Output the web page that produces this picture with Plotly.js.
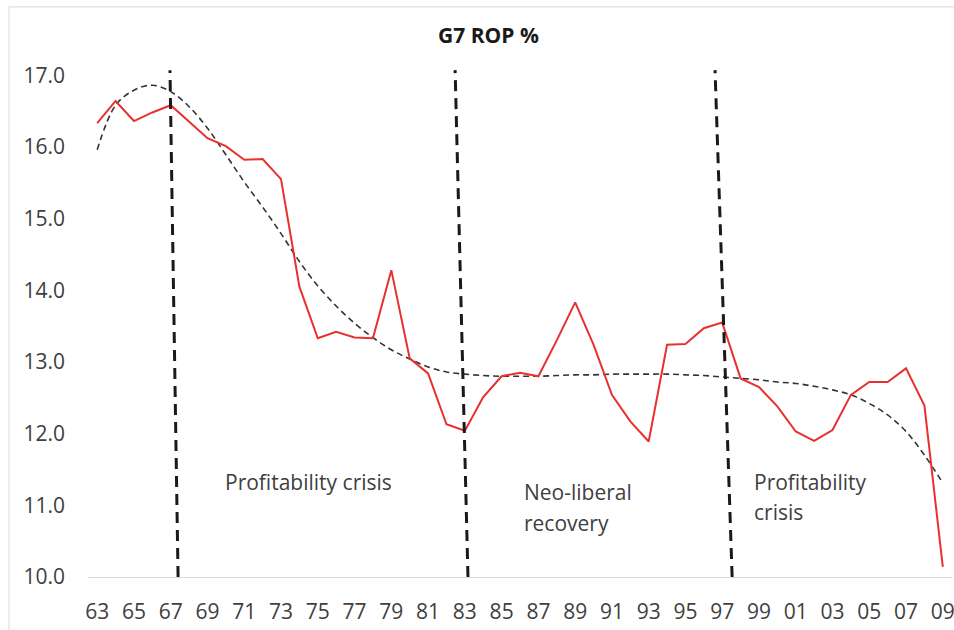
<!DOCTYPE html>
<html>
<head>
<meta charset="utf-8">
<script src="https://cdn.plot.ly/plotly-3.0.1.min.js"></script>
<style>html,body{margin:0;padding:0;background:#fff;}#chart{width:954px;height:630px;}</style>
</head>
<body>
<div id="chart"></div>
<script>
const years = [1963,1964,1965,1966,1967,1968,1969,1970,1971,1972,1973,1974,1975,1976,1977,1978,1979,1980,1981,1982,1983,1984,1985,1986,1987,1988,1989,1990,1991,1992,1993,1994,1995,1996,1997,1998,1999,2000,2001,2002,2003,2004,2005,2006,2007,2008,2009];
const rop = [16.33,16.64,16.36,16.48,16.58,16.35,16.12,16.01,15.82,15.83,15.55,14.05,
             13.33,13.42,13.34,13.33,14.28,13.05,12.84,12.13,12.04,12.51,12.80,12.85,
             12.80,13.30,13.83,13.24,12.54,12.17,11.89,13.24,13.25,13.47,13.55,12.77,
             12.65,12.38,12.03,11.90,12.05,12.54,12.72,12.72,12.91,12.39,10.14];
const trend = [15.96,16.58,16.79,16.86,16.77,16.56,16.26,15.89,15.51,15.16,14.79,14.40,
               14.06,13.78,13.54,13.34,13.17,13.04,12.93,12.86,12.83,12.81,12.80,12.80,
               12.80,12.81,12.82,12.82,12.83,12.83,12.83,12.83,12.82,12.81,12.79,12.77,
               12.75,12.72,12.70,12.66,12.61,12.54,12.42,12.26,12.03,11.70,11.31];
const tickYears = [1963,1965,1967,1969,1971,1973,1975,1977,1979,1981,1983,1985,1987,1989,1991,1993,1995,1997,1999,2001,2003,2005,2007,2009];
const tickLabels = ["63","65","67","69","71","73","75","77","79","81","83","85","87","89","91","93","95","97","99","01","03","05","07","09"];
const yTicks = [10,11,12,13,14,15,16,17];
const yTickLabels = ["10.0","11.0","12.0","13.0","14.0","15.0","16.0","17.0"];
// period dividers (year at top / at bottom of the drawn dashed line)
const dividerTop = [1966.96, 1982.47, 1996.61];
const dividerBottom = [1967.40, 1983.17, 1997.54];
const dividerYTop = 17.07;
const dividerYBottom = 10.0;
// period labels
const labelText = ["Profitability crisis", "Neo-liberal", "recovery", "Profitability", "crisis"];
const labelX = [1969.85, 1986.1, 1986.1, 1998.63, 1998.63];
const labelY = [11.32, 11.19, 10.75, 11.32, 10.90];

const FONT = "Open Sans, Lato, sans-serif";
const TXT = "#404040";

const traces = [
  {x: years, y: trend, type: "scatter", mode: "lines",
   line: {color: "#333333", width: 1.6, dash: "6px,4px", shape: "spline", smoothing: 1},
   hoverinfo: "skip", showlegend: false},
  {x: years, y: rop, type: "scatter", mode: "lines",
   line: {color: "#e8312f", width: 2}, showlegend: false}
];

const shapes = dividerTop.map((xt, i) => ({
  type: "line", xref: "x", yref: "y",
  x0: dividerBottom[i], y0: dividerYBottom, x1: xt, y1: dividerYTop,
  line: {color: "#1a1a1a", width: 3, dash: "11px,7px"}
}));
shapes.push({type: "rect", xref: "paper", yref: "paper",
  x0: -0.0914, x1: 1.2, y0: -0.3, y1: 1.12,
  line: {color: "#d9d9d9", width: 1}, fillcolor: "rgba(0,0,0,0)", layer: "below"});

const annotations = labelText.map((t, i) => ({
  x: labelX[i], y: labelY[i], xref: "x", yref: "y", text: t,
  showarrow: false, xanchor: "left", yanchor: "middle",
  font: {family: FONT, size: 21, color: TXT}
}));

const layout = {
  width: 954, height: 630,
  margin: {l: 88, r: 2, t: 68, b: 53},
  paper_bgcolor: "#ffffff", plot_bgcolor: "#ffffff",
  title: {text: "<b>G7 ROP %</b>", font: {family: FONT, size: 21, color: "#1a1a1a"},
          x: 0.512, xref: "container", xanchor: "center", y: 0.944, yref: "container", yanchor: "middle"},
  xaxis: {range: [1962.5, 2009.5], tickmode: "array", tickvals: tickYears, ticktext: tickLabels,
          showgrid: false, zeroline: false, showline: true, linecolor: "#d9d9d9", linewidth: 1,
          ticks: "", ticklabelstandoff: 16, tickangle: 0, ticklabeloverflow: "allow",
          tickfont: {family: FONT, size: 21, color: TXT}, fixedrange: true},
  yaxis: {range: [10, 17.1], tickmode: "array", tickvals: yTicks, ticktext: yTickLabels,
          showgrid: false, zeroline: false, showline: false,
          ticks: "", ticklabelstandoff: 22,
          tickfont: {family: FONT, size: 21, color: TXT}, fixedrange: true},
  shapes: shapes,
  annotations: annotations,
  showlegend: false
};

Plotly.newPlot("chart", traces, layout, {displayModeBar: false, staticPlot: true});
</script>
</body>
</html>
